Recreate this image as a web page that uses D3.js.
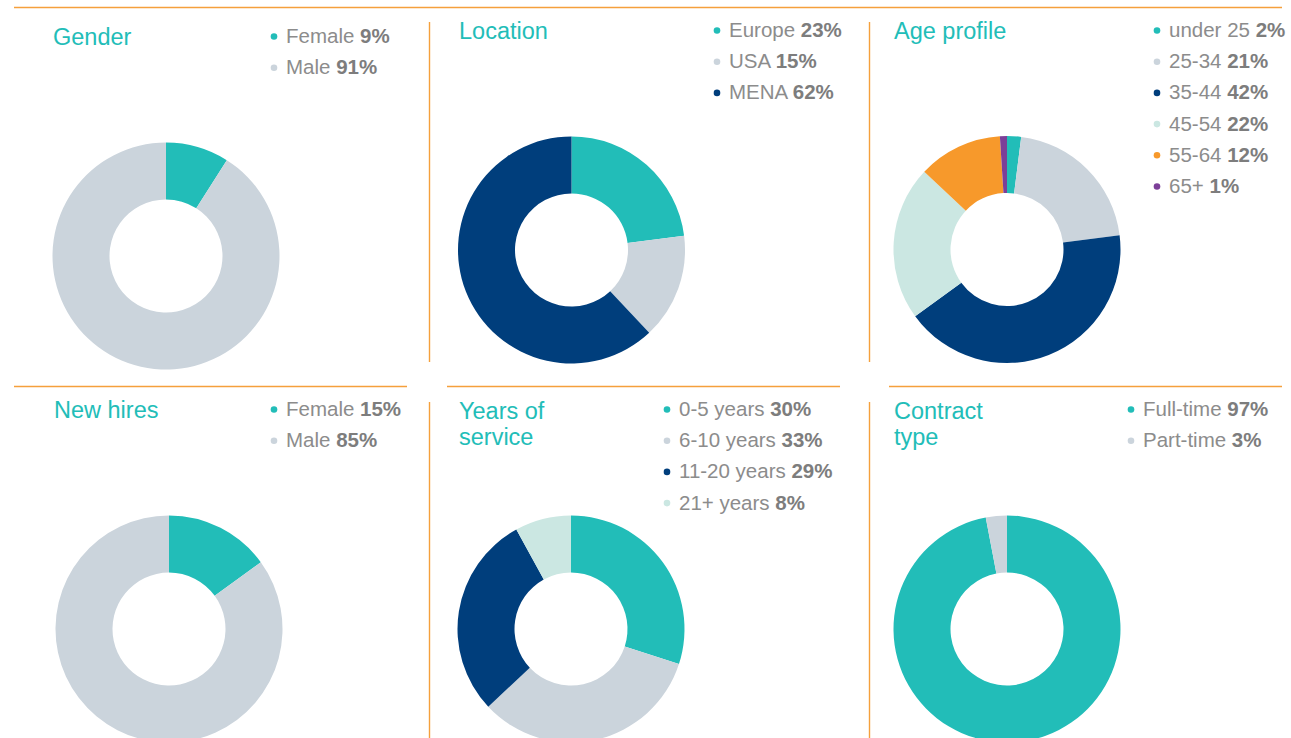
<!DOCTYPE html>
<html>
<head>
<meta charset="utf-8">
<script src="https://cdn.jsdelivr.net/npm/d3@7"></script>
<style>
  body { margin: 0; background: #fff; }
  svg { display: block; }
</style>
</head>
<body>
<div id="chart"></div>
<script>
(function () {

	// data
	var genderLabels = ["Female", "Male"];
	var genderValues = [9, 91];
	var locationLabels = ["Europe", "USA", "MENA"];
	var locationValues = [23, 15, 62];
	var ageLabels = ["under 25", "25-34", "35-44", "45-54", "55-64", "65+"];
	var ageValues = [2, 21, 42, 22, 12, 1];
	var hiresLabels = ["Female", "Male"];
	var hiresValues = [15, 85];
	var serviceLabels = ["0-5 years", "6-10 years", "11-20 years", "21+ years"];
	var serviceValues = [30, 33, 29, 8];
	var contractLabels = ["Full-time", "Part-time"];
	var contractValues = [97, 3];

	var teal = "#22bdb8", grey = "#cbd4dc", navy = "#003e7c",
		mint = "#cbe7e2", orange = "#f7992b", purple = "#7c3f98";

	var panels = [
		{title: ["Gender"], labels: genderLabels, values: genderValues, colors: [teal, grey],
			tx: 53, ty: 45, lx: 274, ly: 43, cx: 166, cy: 256},
		{title: ["Location"], labels: locationLabels, values: locationValues, colors: [teal, grey, navy],
			tx: 459, ty: 39, lx: 717, ly: 37, cx: 571.5, cy: 250},
		{title: ["Age profile"], labels: ageLabels, values: ageValues, colors: [teal, grey, navy, mint, orange, purple],
			tx: 894, ty: 39, lx: 1157, ly: 37, cx: 1007, cy: 249.5},
		{title: ["New hires"], labels: hiresLabels, values: hiresValues, colors: [teal, grey],
			tx: 54, ty: 418, lx: 274, ly: 416, cx: 169, cy: 629},
		{title: ["Years of", "service"], labels: serviceLabels, values: serviceValues, colors: [teal, grey, navy, mint],
			tx: 459, ty: 419, lx: 667, ly: 416, cx: 571, cy: 629},
		{title: ["Contract", "type"], labels: contractLabels, values: contractValues, colors: [teal, grey],
			tx: 894, ty: 419, lx: 1131, ly: 416, cx: 1007, cy: 629}
	];

	var width = 1291, height = 738;
	var lineColor = "#f5a03c";
	var font = "'Liberation Sans', Arial, sans-serif";

	var svg = d3.select("#chart")
		.append("svg")
		.attr("width", width)
		.attr("height", height);

	// separator lines
	var hLines = [[14, 1282, 7.5], [14, 407, 386.5], [447, 840, 386.5], [889, 1282, 386.5]];
	var vLines = [[429.5, 22, 362], [869.5, 22, 362], [429.5, 402, 738], [869.5, 402, 738]];

	svg.selectAll(".hline")
		.data(hLines)
		.enter().append("line")
		.attr("x1", function(d){ return d[0] })
		.attr("x2", function(d){ return d[1] })
		.attr("y1", function(d){ return d[2] })
		.attr("y2", function(d){ return d[2] })
		.attr("stroke", lineColor)
		.attr("stroke-width", 1.4)

	svg.selectAll(".vline")
		.data(vLines)
		.enter().append("line")
		.attr("x1", function(d){ return d[0] })
		.attr("x2", function(d){ return d[0] })
		.attr("y1", function(d){ return d[1] })
		.attr("y2", function(d){ return d[2] })
		.attr("stroke", lineColor)
		.attr("stroke-width", 1.4)

	var pie = d3.pie().sort(null).value(function(d){ return d });
	var arc = d3.arc().innerRadius(56.5).outerRadius(113.5);

	panels.forEach(function(p){

		var g = svg.append("g");

		// title
		g.selectAll(".title")
			.data(p.title)
			.enter().append("text")
			.attr("x", p.tx)
			.attr("y", function(d, i){ return p.ty + i * 26 })
			.attr("fill", teal)
			.style("font-family", font)
			.style("font-size", "23.5px")
			.text(function(d){ return d })

		// legend
		var leg = g.selectAll(".leg")
			.data(p.labels)
			.enter().append("g")
			.attr("transform", function(d, i){ return "translate(" + p.lx + "," + (p.ly + i * 31.2) + ")" })

		leg.append("circle")
			.attr("cx", 0)
			.attr("cy", -6.5)
			.attr("r", 3.3)
			.attr("fill", function(d, i){ return p.colors[i] })

		var t = leg.append("text")
			.attr("x", 12)
			.attr("y", 0)
			.attr("fill", "#8c8c8c")
			.style("font-family", font)
			.style("font-size", "20.5px")

		t.append("tspan").text(function(d){ return d + " " })
		t.append("tspan")
			.attr("font-weight", "bold")
			.attr("fill", "#7d7d7d")
			.text(function(d, i){ return p.values[i] + "%" })

		// donut
		g.append("g")
			.attr("transform", "translate(" + p.cx + "," + p.cy + ")")
			.selectAll("path")
			.data(pie(p.values))
			.enter().append("path")
			.attr("d", arc)
			.attr("fill", function(d, i){ return p.colors[i] })
	});

})();
</script>
</body>
</html>
